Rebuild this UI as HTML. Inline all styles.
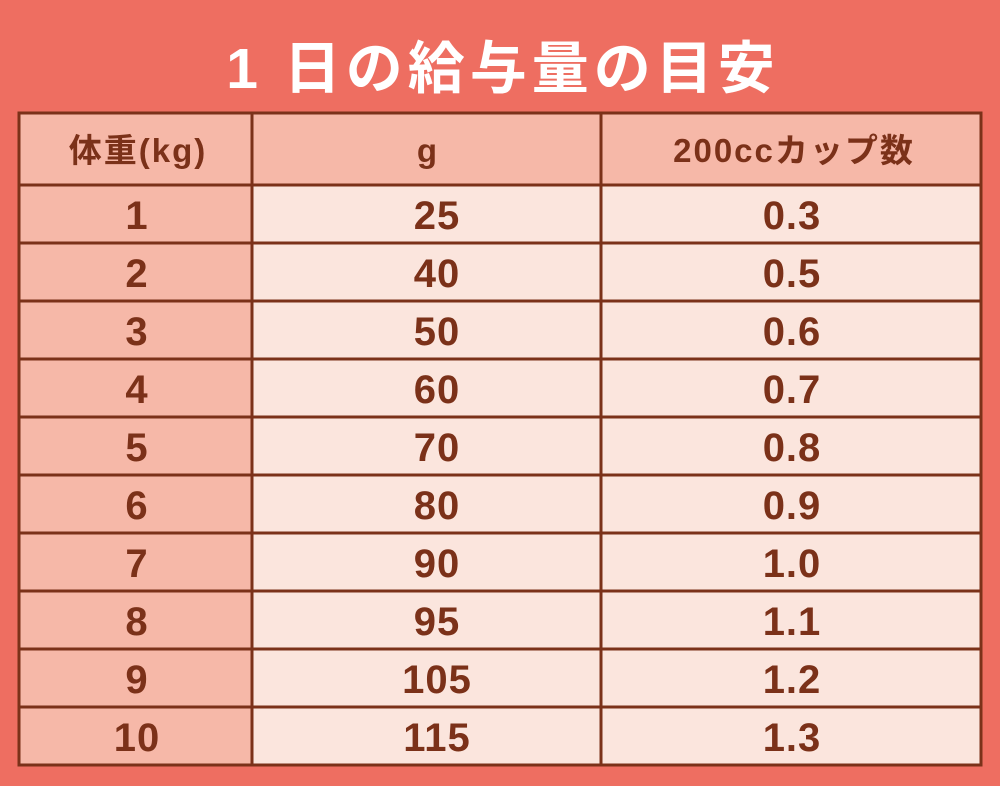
<!DOCTYPE html>
<html><head><meta charset="utf-8"><style>
body{margin:0;width:1000px;height:786px;background:#EE6E61;overflow:hidden}
</style></head><body>
<svg width="1000" height="786" xmlns="http://www.w3.org/2000/svg" style="display:block">
<rect width="1000" height="786" fill="#EE6E61"/>
<text x="503" y="88" text-anchor="middle" font-family="'Liberation Sans','Noto Sans CJK JP',sans-serif" font-weight="bold" font-size="57" letter-spacing="5" fill="#fff">1 日の給与量の目安</text>
<rect x="19" y="113" width="962" height="652" fill="#FBE5DD"/>
<rect x="19" y="113" width="962" height="72" fill="#F6B8A8"/>
<rect x="19" y="113" width="233" height="652" fill="#F6B8A8"/>
<g stroke="#7B3119" stroke-width="3" fill="none">
<rect x="19" y="113" width="962" height="652"/>
<line x1="252" y1="113" x2="252" y2="765"/>
<line x1="601" y1="113" x2="601" y2="765"/>
<line x1="19" y1="185" x2="981" y2="185"/>
<line x1="19" y1="243" x2="981" y2="243"/>
<line x1="19" y1="301" x2="981" y2="301"/>
<line x1="19" y1="359" x2="981" y2="359"/>
<line x1="19" y1="417" x2="981" y2="417"/>
<line x1="19" y1="475" x2="981" y2="475"/>
<line x1="19" y1="533" x2="981" y2="533"/>
<line x1="19" y1="591" x2="981" y2="591"/>
<line x1="19" y1="649" x2="981" y2="649"/>
<line x1="19" y1="707" x2="981" y2="707"/>
</g>
<g font-family="'Liberation Sans','Noto Sans CJK JP',sans-serif" font-weight="bold" fill="#7B3119" text-anchor="middle">
<g font-size="33" letter-spacing="2">
<text x="138" y="162">体重(kg)</text>
<text x="428" y="162">g</text>
<text x="794" y="162">200ccカップ数</text>
</g>
<g font-size="40" letter-spacing="1">
<text x="137" y="229">1</text><text x="437" y="229">25</text><text x="792" y="229">0.3</text>
<text x="137" y="287">2</text><text x="437" y="287">40</text><text x="792" y="287">0.5</text>
<text x="137" y="345">3</text><text x="437" y="345">50</text><text x="792" y="345">0.6</text>
<text x="137" y="403">4</text><text x="437" y="403">60</text><text x="792" y="403">0.7</text>
<text x="137" y="461">5</text><text x="437" y="461">70</text><text x="792" y="461">0.8</text>
<text x="137" y="519">6</text><text x="437" y="519">80</text><text x="792" y="519">0.9</text>
<text x="137" y="577">7</text><text x="437" y="577">90</text><text x="792" y="577">1.0</text>
<text x="137" y="635">8</text><text x="437" y="635">95</text><text x="792" y="635">1.1</text>
<text x="137" y="693">9</text><text x="437" y="693">105</text><text x="792" y="693">1.2</text>
<text x="137" y="751">10</text><text x="437" y="751">115</text><text x="792" y="751">1.3</text>
</g>
</g>
</svg>
</body></html>
